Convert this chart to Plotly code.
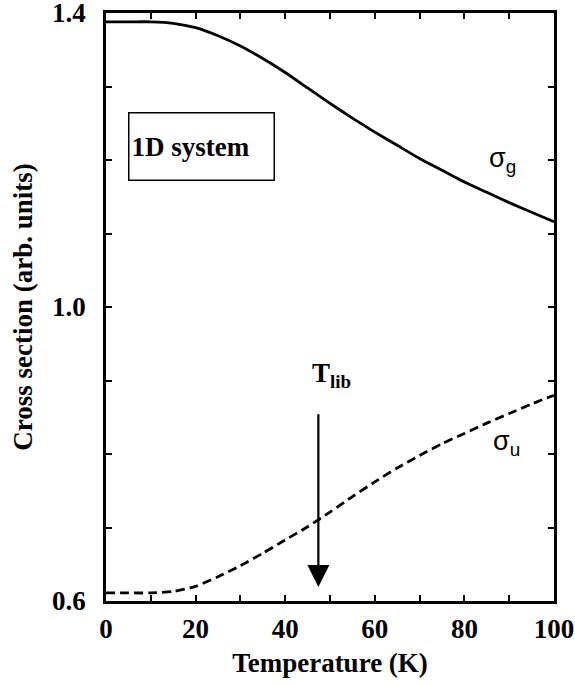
import plotly.graph_objects as go

# Data
temp_g = [0, 5, 10, 15, 20, 25, 30, 35, 40, 45, 50, 55, 60, 65, 70, 75, 80, 85, 90, 95, 100]
sigma_g = [1.388, 1.388, 1.388, 1.386, 1.380, 1.369, 1.355, 1.338, 1.319, 1.298, 1.277, 1.257, 1.238,
           1.220, 1.202, 1.186, 1.170, 1.156, 1.142, 1.129, 1.116]

temp_u = [0, 5, 10, 15, 20, 25, 30, 35, 40, 45, 50, 55, 60, 65, 70, 75, 80, 85, 90, 95, 100]
sigma_u = [0.611, 0.611, 0.611, 0.613, 0.620, 0.633, 0.648, 0.665, 0.683, 0.701, 0.721, 0.742, 0.762,
           0.781, 0.798, 0.814, 0.828, 0.842, 0.855, 0.868, 0.880]

x_tickvals = [0, 10, 20, 30, 40, 50, 60, 70, 80, 90, 100]
x_ticktext = ["0", "", "20", "", "40", "", "60", "", "80", "", "100"]
y_tickvals = [0.6, 0.7, 0.8, 0.9, 1.0, 1.1, 1.2, 1.3, 1.4]
y_ticktext = ["0.6", "", "", "", "1.0", "", "", "", "1.4"]

t_lib = 47.4
arrow_y = [0.856, 0.619]

serif = "Liberation Serif"
sans = "Liberation Sans"

fig = go.Figure()
fig.add_trace(go.Scatter(x=temp_g, y=sigma_g, mode="lines",
                         line=dict(color="black", width=2.8, shape="spline", smoothing=0.6),
                         showlegend=False, hoverinfo="skip"))
fig.add_trace(go.Scatter(x=temp_u, y=sigma_u, mode="lines",
                         line=dict(color="black", width=2.8, dash="9px,5px", shape="spline", smoothing=0.6),
                         showlegend=False, hoverinfo="skip"))

axis_common = dict(showline=True, linecolor="black", linewidth=2.5, mirror="ticks",
                   ticks="inside", ticklen=6, tickwidth=2, tickcolor="black",
                   showgrid=False, zeroline=False, automargin=False, ticklabeloverflow="allow",
                   tickfont=dict(family=serif, size=27, color="black", weight="bold"))

fig.update_xaxes(range=[0, 100], tickmode="array", tickvals=x_tickvals, ticktext=x_ticktext,
                 ticklabelstandoff=2,
                 title=dict(text="Temperature (K)", font=dict(family=serif, size=27, color="black", weight="bold"), standoff=10),
                 **axis_common)
fig.update_yaxes(range=[0.6, 1.4], tickmode="array", tickvals=y_tickvals, ticktext=y_ticktext,
                 ticklabelstandoff=12,
                 title=dict(text="Cross section (arb. units)", font=dict(family=serif, size=27, color="black", weight="bold"), standoff=12),
                 **axis_common)

annotations = [
    dict(x=21.4, y=1.219, xref="x", yref="y", text="1D system", showarrow=False,
         font=dict(family=serif, size=27, color="black", weight="bold"), bordercolor="black", borderwidth=1.5,
         width=140, height=62, align="left", borderpad=2, bgcolor="white"),
    dict(x=88.5, y=1.2, xref="x", yref="y", text="σ<sub>g</sub>", showarrow=False,
         font=dict(family=sans, size=27, color="black")),
    dict(x=89.5, y=0.815, xref="x", yref="y", text="σ<sub>u</sub>", showarrow=False,
         font=dict(family=sans, size=27, color="black")),
    dict(x=t_lib + 2.9, y=0.907, xref="x", yref="y", text="T<sub>lib</sub>", showarrow=False,
         font=dict(family=serif, size=27, color="black", weight="bold")),
    dict(x=t_lib, y=arrow_y[1], ax=t_lib, ay=arrow_y[0], xref="x", yref="y", axref="x", ayref="y",
         text="", showarrow=True, arrowhead=2, arrowsize=2.0, arrowwidth=2.2, arrowcolor="black"),
]

fig.update_layout(width=575, height=685, margin=dict(l=106, r=21, t=13, b=84),
                  font=dict(family=serif, color="black"),
                  plot_bgcolor="white", paper_bgcolor="white", annotations=annotations)

fig.write_html("out.html")
